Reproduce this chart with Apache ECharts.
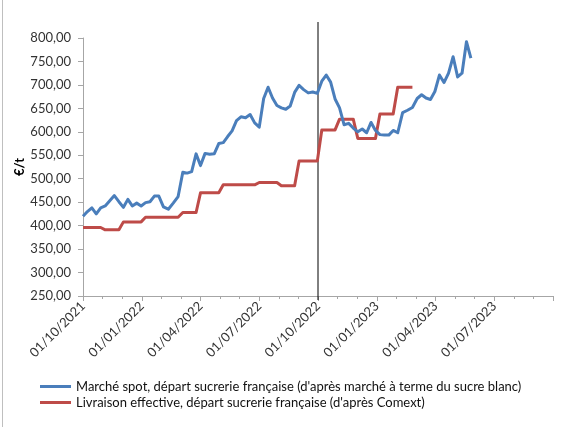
<!DOCTYPE html>
<html><head><meta charset="utf-8">
<script src="https://cdn.jsdelivr.net/npm/echarts@6/dist/echarts.min.js"></script>
<style>html,body{margin:0;padding:0;background:#fff}#c{width:571px;height:427px}
#frame{position:absolute;left:2px;top:0;width:0;height:427px;border-left:1px solid #bfbfbf}</style>
</head><body><div id="c"></div><div id="frame"></div>
<script>
// ---- data ----
const firstWeek = '2021-10-01';           // weekly observations, every 7 days
const spotValues = [
  420,430,438,425,438,442,453,464,451,439,
  456,442,448,442,449,451,463,463,440,435,
  448,462,514,512,515,553,528,554,552,553,
  575,577,590,602,624,632,630,637,619,610,
  671,695,672,656,651,648,655,684,699,690,
  683,685,682,708,721,706,670,651,615,618,
  608,600,606,598,620,603,594,593,593,603,
  598,641,646,652,671,679,672,669,686,721,
  705,725,760,717,725,792,757
];
const comextMonths = ['2021-10','2021-11','2021-12','2022-01','2022-02','2022-03','2022-04','2022-05','2022-06','2022-07','2022-08','2022-09','2022-10','2022-11','2022-12','2023-01','2023-02'];
const comextValues = [396,391,408,418,418,428,470,487,487,492,485,538,604,627,586,638,695];
const xTickLabels = ['01/10/2021','01/01/2022','01/04/2022','01/07/2022','01/10/2022','01/01/2023','01/04/2023','01/07/2023','01/10/2023'];
const markerDate = '2022-10-01';
const seriesNames = ["Marché spot, départ sucrerie française (d'après marché à terme du sucre blanc)",
                     "Livraison effective, départ sucrerie française (d'après Comext)"];

// ---- helpers: date -> months since Oct 2021 ----
function parts(s){const a=s.split('-').map(Number);return {y:a[0],m:a[1],d:a[2]||1};}
function toMonths(s){const p=parts(s);const dim=new Date(Date.UTC(p.y,p.m,0)).getUTCDate();
  return (p.y-2021)*12+(p.m-10)+(p.d-1)/dim;}
function addDays(s,n){const p=parts(s);const t=new Date(Date.UTC(p.y,p.m-1,p.d+n));
  return t.toISOString().slice(0,10);}
const weekDates = spotValues.map((_,i)=>addDays(firstWeek,7*i));
const spotData = weekDates.map((d,i)=>[toMonths(d), spotValues[i]]);
const comextData = [];
weekDates.forEach(d=>{const k=comextMonths.indexOf(d.slice(0,7)); if(k>=0) comextData.push([toMonths(d), comextValues[k]]);});
const markerX = toMonths(markerDate);

const FONT = 'Lato';
const chart = echarts.init(document.getElementById('c'));
chart.setOption({
  animation:false,
  textStyle:{fontFamily:FONT},
  grid:[{left:83,right:18,top:38,bottom:131},{left:83,right:18,top:22,bottom:127}],
  xAxis:[{
    type:'value',min:0,max:24,interval:3,gridIndex:0,
    axisLine:{show:true,lineStyle:{color:'#a6a6a6',width:1}},
    axisTick:{show:true,length:5,lineStyle:{color:'#a6a6a6'}},
    minorTick:{show:true,splitNumber:3,length:3,lineStyle:{color:'#a6a6a6'}},
    splitLine:{show:false},minorSplitLine:{show:false},
    axisLabel:{rotate:45,fontSize:13,color:'#333',margin:8,showMaxLabel:false,fontFamily:FONT,
      formatter:v=>xTickLabels[Math.round(v/3)]}
  },{type:'value',min:0,max:24,gridIndex:1,show:false}],
  yAxis:[{
    type:'value',min:250,max:800,interval:50,gridIndex:0,
    axisLine:{show:true,lineStyle:{color:'#a6a6a6',width:1}},
    axisTick:{show:true,length:5,lineStyle:{color:'#a6a6a6'}},
    splitLine:{show:false},
    axisLabel:{fontSize:13,color:'#333',margin:12,fontFamily:FONT,
      formatter:v=>v.toFixed(2).replace('.',',')},
    name:'€/t',nameLocation:'middle',nameGap:57,nameMoveOverlap:false,
    nameTextStyle:{fontSize:13,fontWeight:'bold',color:'#000',fontFamily:FONT}
  },{type:'value',min:0,max:1,gridIndex:1,show:false}],
  legend:{orient:'vertical',left:35,top:375,itemWidth:31,itemHeight:3,icon:'rect',itemGap:3,
    data:seriesNames,textStyle:{fontSize:13,color:'#111',fontFamily:FONT}},
  series:[
    {name:seriesNames[0],type:'line',data:spotData,showSymbol:false,symbol:'none',
     lineStyle:{color:'#4A7EBB',width:3,join:'round'},itemStyle:{color:'#4A7EBB'},z:3},
    {name:seriesNames[1],type:'line',data:comextData,showSymbol:false,symbol:'none',
     lineStyle:{color:'#BE4B48',width:3,join:'round'},itemStyle:{color:'#BE4B48'},z:2},
    {name:'marker',type:'line',xAxisIndex:1,yAxisIndex:1,data:[[markerX,0],[markerX,1]],
     showSymbol:false,symbol:'none',lineStyle:{color:'#000',width:1},z:1}
  ]
});
</script></body></html>
